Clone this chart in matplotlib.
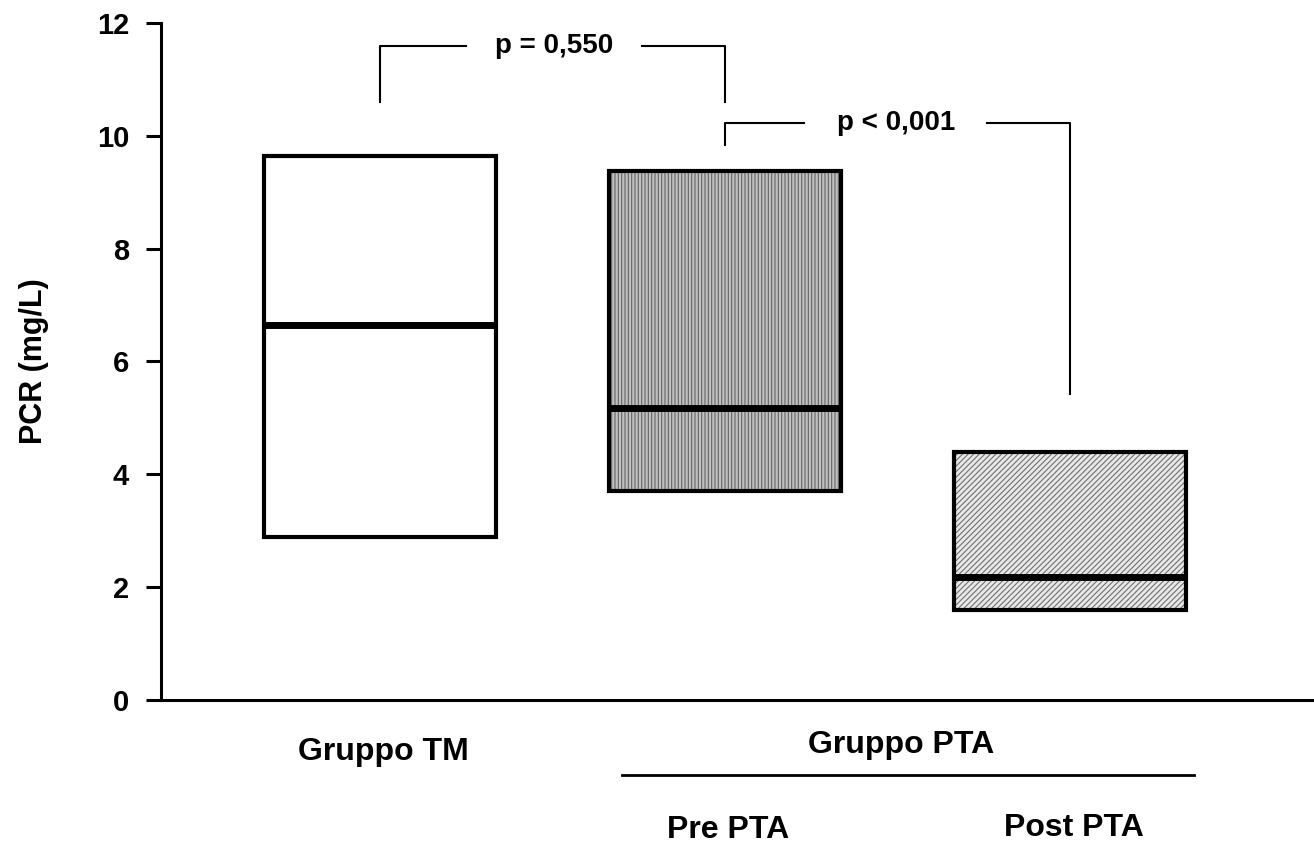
import matplotlib.pyplot as plt
from matplotlib.patches import Rectangle

# box data (mg/L): lower, median, upper
groups = ['Gruppo TM', 'Pre PTA', 'Post PTA']
pos = [1, 2, 3]
lower = [2.88, 3.70, 1.60]
median = [6.64, 5.17, 2.18]
upper = [9.64, 9.38, 4.40]
faces = ['white', '#c0c0c0', '#e8e8e8']
hatches = [None, '|||||', '//////']
hcols = ['white', '#666666', '#707070']

# significance brackets: x left, x right, y top, left foot, right foot, label
br_x1 = [1.0, 2.0]
br_x2 = [2.0, 3.0]
br_top = [11.6, 10.22]
br_lfoot = [10.6, 9.84]
br_rfoot = [10.6, 5.42]
br_gap = [(1.25, 1.76), (2.23, 2.76)]
br_text = ['p = 0,550', 'p < 0,001']

plt.rcParams['font.family'] = ['Liberation Sans', 'DejaVu Sans']
plt.rcParams['font.weight'] = 'bold'
plt.rcParams['hatch.linewidth'] = 0.8

fig = plt.figure(figsize=(13.14, 8.5), dpi=100)
ax = fig.add_axes([0.1225, 0.1765, 0.8775, 0.7965])

w = 0.67
for i in range(3):
    x0 = pos[i] - w / 2
    h = upper[i] - lower[i]
    if hatches[i]:
        plt.rcParams['hatch.color'] = hcols[i]
        ax.add_patch(Rectangle((x0, lower[i]), w, h, facecolor=faces[i],
                               edgecolor=hcols[i], hatch=hatches[i], lw=0))
    else:
        ax.add_patch(Rectangle((x0, lower[i]), w, h, facecolor=faces[i], lw=0))
    ax.add_patch(Rectangle((x0, lower[i]), w, h, facecolor='none',
                           edgecolor='black', lw=3))
    ax.plot([x0, x0 + w], [median[i], median[i]], color='black', lw=5,
            solid_capstyle='butt')

for i in range(2):
    a, b = br_gap[i]
    ax.plot([br_x1[i], br_x1[i], a], [br_lfoot[i], br_top[i], br_top[i]],
            color='black', lw=1.5)
    ax.plot([b, br_x2[i], br_x2[i]], [br_top[i], br_top[i], br_rfoot[i]],
            color='black', lw=1.5)
    ax.text((a + b) / 2, br_top[i], br_text[i], ha='center', va='center',
            fontsize=20, fontweight='bold')

ax.set_xlim(0.365, 3.707)
ax.set_ylim(0, 12)
ax.set_yticks([0, 2, 4, 6, 8, 10, 12])
ax.set_xticks([])
ax.tick_params(axis='y', direction='out', length=11, width=2.2,
               labelsize=21, pad=12)
for lab in ax.get_yticklabels():
    lab.set_fontweight('bold')
for s in ['top', 'right']:
    ax.spines[s].set_visible(False)
for s in ['left', 'bottom']:
    ax.spines[s].set_linewidth(2.2)
ax.set_ylabel('PCR (mg/L)', fontsize=22, fontweight='bold', labelpad=34)

# category labels under the axis
ax.text(1.01, -0.92, groups[0], ha='center', va='center', fontsize=23,
        fontweight='bold', clip_on=False)
ax.text(2.51, -0.80, 'Gruppo PTA', ha='center', va='center', fontsize=23,
        fontweight='bold', clip_on=False)
ax.plot([1.70, 3.36], [-1.33, -1.33], color='black', lw=2, clip_on=False)
ax.text(2.01, -2.30, groups[1], ha='center', va='center', fontsize=23,
        fontweight='bold', clip_on=False)
ax.text(3.01, -2.27, groups[2], ha='center', va='center', fontsize=23,
        fontweight='bold', clip_on=False)

fig.savefig('out.png', dpi=100)
